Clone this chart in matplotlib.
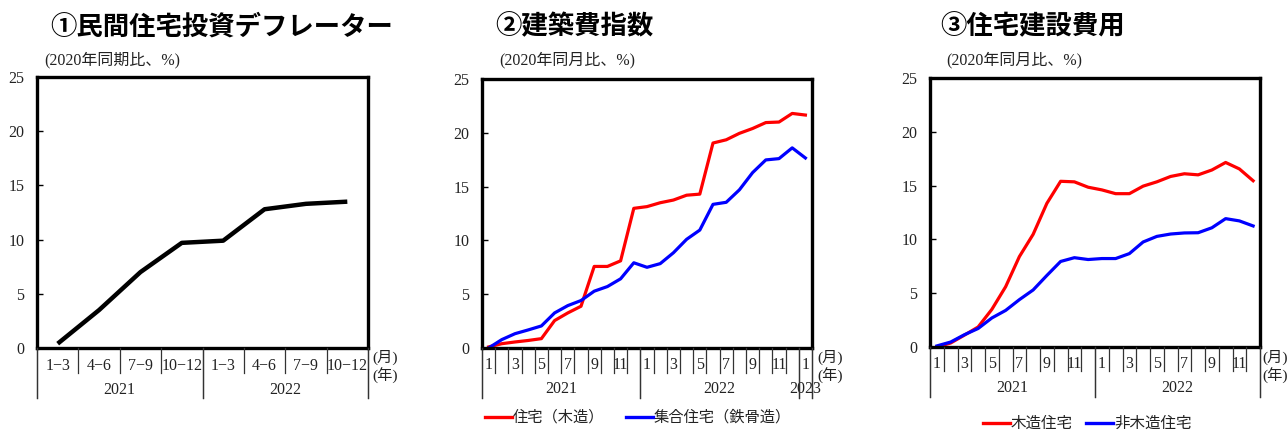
import matplotlib
matplotlib.use("Agg")
import matplotlib.pyplot as plt
from matplotlib.lines import Line2D
from matplotlib.transforms import blended_transform_factory

# ---------------- data ----------------
# (1) private residential investment deflator, quarterly, 2021Q1-2022Q4
quarter_labels = ["1−3", "4−6", "7−9", "10−12", "1−3", "4−6", "7−9", "10−12"]
deflator = [0.4, 3.5, 7.0, 9.7, 9.9, 12.8, 13.3, 13.5]
years_1 = ["2021", "2022"]

# (2) construction cost index, monthly, 2021-01 .. 2023-01
month_labels_2 = ["1", "", "3", "", "5", "", "7", "", "9", "", "11", "",
                  "1", "", "3", "", "5", "", "7", "", "9", "", "11", "",
                  "1"]
house_wood = [0.1, 0.4, 0.56, 0.7, 0.87, 2.55, 3.26, 3.88, 7.58, 7.58, 8.1, 12.98,
              13.14, 13.5, 13.75, 14.2, 14.3, 19.05, 19.35, 19.95, 20.4, 20.95, 21.0, 21.8,
              21.65]
apartment_steel = [0.0, 0.78, 1.33, 1.68, 2.05, 3.26, 3.94, 4.41, 5.28, 5.71, 6.43, 7.92,
                   7.5, 7.84, 8.85, 10.1, 10.96, 13.35, 13.54, 14.7, 16.3, 17.48, 17.6, 18.6,
                   17.66]
years_2 = ["2021", "2022", "2023"]

# (3) housing construction cost, monthly, 2021-01 .. 2022-12
month_labels_3 = ["1", "", "3", "", "5", "", "7", "", "9", "", "11", "",
                  "1", "", "3", "", "5", "", "7", "", "9", "", "11", ""]
wooden_house = [0.0, 0.37, 1.1, 1.86, 3.5, 5.6, 8.4, 10.47, 13.35, 15.4, 15.35, 14.85,
                14.6, 14.25, 14.25, 14.95, 15.35, 15.85, 16.1, 16.0, 16.45, 17.15, 16.55, 15.45]
nonwooden_house = [0.1, 0.46, 1.14, 1.72, 2.7, 3.4, 4.4, 5.3, 6.65, 7.95, 8.3, 8.13,
                   8.22, 8.22, 8.68, 9.76, 10.28, 10.5, 10.6, 10.62, 11.08, 11.93, 11.72, 11.25]
years_3 = ["2021", "2022"]

y_ticks = [0, 5, 10, 15, 20, 25]

# ---------------- figure ----------------
W, H = 1288, 430
fig = plt.figure(figsize=(W / 100, H / 100), dpi=100)
fig.patch.set_facecolor("white")

SERIF = ["Liberation Serif", "Noto Sans CJK JP"]
GOTH = ["Noto Sans CJK JP", "DejaVu Sans"]
RED = "#FF0000"
BLUE = "#0000FF"
TXT = "#222222"


def fy(py):
    return 1 - py / H


def add_axes_px(left, top, right, bottom):
    return fig.add_axes([left / W, 1 - bottom / H, (right - left) / W, (bottom - top) / H])


def style_axes(ax, n):
    ax.set_xlim(-0.5, n - 0.5)
    ax.set_ylim(0, 25)
    ax.set_yticks(y_ticks)
    ax.set_yticklabels([str(v) for v in y_ticks], family=SERIF, fontsize=11.5)
    ax.set_xticks([])
    ax.tick_params(axis="y", direction="in", length=4, width=1, pad=9, colors="black",
                   labelcolor=TXT)
    for sp in ax.spines.values():
        sp.set_linewidth(2.4)
        sp.set_color("black")


def category_axis(ax, labels, year_bounds, years, year_centers,
                  tick_bottom, year_bottom, label_y, year_y, unit_x, axis_bottom):
    tr = blended_transform_factory(ax.transData, fig.transFigure)
    n = len(labels)
    for k in range(n + 1):
        b = k - 0.5
        bottom = year_bottom if b in year_bounds else tick_bottom
        fig.add_artist(Line2D([b, b], [fy(axis_bottom), fy(bottom)], transform=tr,
                              color="#333333", linewidth=0.9))
    for b in year_bounds:
        fig.add_artist(Line2D([b, b], [fy(axis_bottom), fy(year_bottom)], transform=tr,
                              color="#333333", linewidth=0.9))
    for i, lab in enumerate(labels):
        if lab:
            ax.text(i, fy(label_y), lab, transform=tr, ha="center", va="center",
                    family=SERIF, fontsize=11.5, color=TXT)
    for yr, xc in zip(years, year_centers):
        ax.text(xc, fy(year_y), yr, transform=tr, ha="center", va="center",
                family=SERIF, fontsize=11.5, color=TXT)
    fig.text(unit_x / W, fy(357), "(月)", ha="left", va="center", family=SERIF,
             fontsize=11, color=TXT)
    fig.text(unit_x / W, fy(376), "(年)", ha="left", va="center", family=SERIF,
             fontsize=11, color=TXT)


def legend_entry(x0, y, color, label, size):
    fig.add_artist(Line2D([x0 / W, (x0 + 27) / W], [fy(y), fy(y)], color=color,
                          linewidth=2.4, transform=fig.transFigure))
    fig.text((x0 + 28) / W, fy(y), label, ha="left", va="center", family=GOTH,
             fontsize=size, color=TXT)


# ---- panel 1 ----
ax1 = add_axes_px(37, 77, 368, 348)
style_axes(ax1, len(quarter_labels))
ax1.plot(range(len(deflator)), deflator, color="black", linewidth=3.2,
         solid_capstyle="butt")
category_axis(ax1, quarter_labels, [-0.5, 3.5, 7.5], years_1, [1.5, 5.5],
              tick_bottom=373, year_bottom=398, label_y=366, year_y=390,
              unit_x=372, axis_bottom=348)
fig.text(50 / W, fy(27), "①民間住宅投資デフレーター", ha="left", va="center",
         family=GOTH, fontsize=19, fontweight="bold")
fig.text(44 / W, fy(60), "(2020年同期比、%)", ha="left", va="center",
         family=SERIF, fontsize=11.5, color=TXT)

# ---- panel 2 ----
ax2 = add_axes_px(482, 79, 812, 348)
style_axes(ax2, len(month_labels_2))
ax2.plot(range(len(house_wood)), house_wood, color=RED, linewidth=2.3)
ax2.plot(range(len(apartment_steel)), apartment_steel, color=BLUE, linewidth=2.3)
category_axis(ax2, month_labels_2, [-0.5, 11.5, 23.5, 24.5], years_2, [5.5, 17.5, 24],
              tick_bottom=373, year_bottom=398, label_y=365, year_y=389,
              unit_x=817, axis_bottom=348)
fig.text(495 / W, fy(27), "②建築費指数", ha="left", va="center",
         family=GOTH, fontsize=19, fontweight="bold")
fig.text(499 / W, fy(60), "(2020年同月比、%)", ha="left", va="center",
         family=SERIF, fontsize=11.5, color=TXT)
legend_entry(485, 417, RED, "住宅（木造）", 11)
legend_entry(626, 417, BLUE, "集合住宅（鉄骨造）", 11)

# ---- panel 3 ----
ax3 = add_axes_px(930, 78, 1260, 347)
style_axes(ax3, len(month_labels_3))
ax3.plot(range(len(wooden_house)), wooden_house, color=RED, linewidth=2.3)
ax3.plot(range(len(nonwooden_house)), nonwooden_house, color=BLUE, linewidth=2.3)
category_axis(ax3, month_labels_3, [-0.5, 11.5, 23.5], years_3, [5.5, 17.5],
              tick_bottom=371, year_bottom=397, label_y=364, year_y=388,
              unit_x=1262, axis_bottom=347)
fig.text(940 / W, fy(27), "③住宅建設費用", ha="left", va="center",
         family=GOTH, fontsize=19, fontweight="bold")
fig.text(946 / W, fy(60), "(2020年同月比、%)", ha="left", va="center",
         family=SERIF, fontsize=11.5, color=TXT)
legend_entry(983, 423, RED, "木造住宅", 11.2)
legend_entry(1086, 423, BLUE, "非木造住宅", 11.2)

fig.savefig("out.png", dpi=100, facecolor="white")
